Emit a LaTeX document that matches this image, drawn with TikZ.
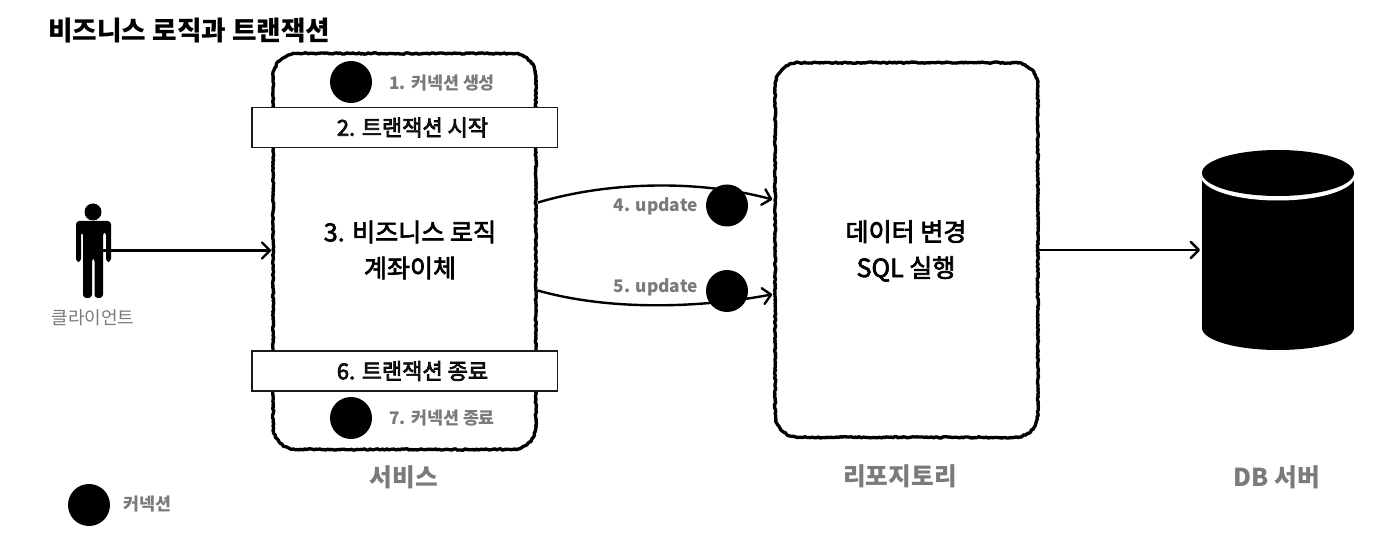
\documentclass[tikz,border=0pt]{standalone}
\usepackage{fontspec}
\setmainfont{Noto Sans CJK KR}
\newcommand{\medtext}[1]{\special{pdf:code q 2 Tr 0.5 w 0 G}#1\special{pdf:code Q}}
\usetikzlibrary{arrows.meta,decorations.pathmorphing,calc}
\definecolor{lab}{HTML}{7A7A7A}
\definecolor{dark}{HTML}{1A1A1A}
\pgfmathsetseed{7}
\tikzset{
  x=0.75pt,y=-0.75pt,
  roughbox/.style={inner sep=0pt,outer sep=0pt},
  roughline/.style={draw=black,line width=2.5pt,line join=round,
    decorate,decoration={random steps,segment length=1.4pt,amplitude=0.5pt}},
  txbox/.style={draw=dark,line width=1pt,fill=white,inner sep=0pt,outer sep=0pt,minimum width=229pt,minimum height=30pt,
    font=\fontsize{16.5}{19}\selectfont,text=dark},
  conn/.style={circle,fill=black,minimum size=31.5pt,inner sep=0pt,outer sep=0pt},
  big/.style={font=\fontsize{18.8}{27}\selectfont,text=black,align=center,inner sep=0pt},
  small/.style={font=\fontsize{13}{16}\selectfont\bfseries,text=lab,inner sep=0pt},
  caplabel/.style={font=\fontsize{18.5}{22}\selectfont\bfseries,text=lab,inner sep=0pt},
  flow/.style={line width=1.8pt,shorten >=1.5pt,-{Straight Barb[length=6pt,width=12pt,line width=1.8pt,round]}},
}
\newcommand{\roughrect}[1]{%
  \draw[roughline] ($(#1.north west)+(24,0)$) -- ($(#1.north east)+(-24,0)$)
    .. controls ($(#1.north east)+(-10,0)$) and ($(#1.north east)+(0,10)$) .. ($(#1.north east)+(0,24)$)
    -- ($(#1.south east)+(0,-24)$)
    .. controls ($(#1.south east)+(0,-10)$) and ($(#1.south east)+(-10,0)$) .. ($(#1.south east)+(-24,0)$)
    -- ($(#1.south west)+(24,0)$)
    .. controls ($(#1.south west)+(10,0)$) and ($(#1.south west)+(0,-10)$) .. ($(#1.south west)+(0,-24)$)
    -- ($(#1.north west)+(0,24)$)
    .. controls ($(#1.north west)+(0,10)$) and ($(#1.north west)+(10,0)$) .. cycle;}
\begin{document}
\begin{tikzpicture}
\useasboundingbox (0,0) rectangle (1398,548);
\node[anchor=west,inner sep=0pt,font=\fontsize{20}{24}\selectfont\bfseries] (title) at (48,31) {비즈니스 로직과 트랜잭션};

% rough boxes
\node[roughbox,minimum width=197pt,minimum height=297pt] (service) at (404.5,251.5) {};
\node[roughbox,minimum width=197pt,minimum height=281pt] (repo) at (906.5,250) {};
\roughrect{service}
\roughrect{repo}
\node[big] (repotext) at (906,251) {\medtext{데이터 변경}\\\medtext{SQL 실행}};
\node[big] (bizlogic) at (410,250) {\medtext{3. 비즈니스 로직}\\\medtext{계좌이체}};

% transaction bars
\node[txbox] (txstart) at (404.5,127.5) {\hspace*{12pt}\medtext{2. 트랜잭션 시작}};
\node[txbox] (txend) at (404.5,371) {\hspace*{12pt}\medtext{6. 트랜잭션 종료}};

% connection dots
\node[conn] (c1) at (351,82) {};
\node[conn] (c7) at (351,418) {};
\node[small,anchor=west] (l1) at (389,83) {1. 커넥션 생성};
\node[small,anchor=west] (l7) at (389,418) {7. 커넥션 종료};

% client figure
\node[inner sep=0pt,outer sep=0pt,minimum width=26.5pt,minimum height=71.5pt] (client) at (93.5,250.5) {};
\fill[black] (93,212) circle[radius=8.5];
\fill[black,rounded corners=2.5pt] (76,262) -- (76,221) -- (111,221) -- (111,262) -- (106,262) -- (106,232) -- (103,232) -- (103,298) -- (94.5,298) -- (94.5,258) -- (92,258) -- (92,298) -- (83,298) -- (83,232) -- (81,232) -- (81,262) -- cycle;
\node[font=\fontsize{13.5}{16}\selectfont,text=lab,inner sep=0pt] (clientlabel) at (93,318) {클라이언트};

% database
\node[inner sep=0pt,outer sep=0pt,minimum width=114pt,minimum height=150pt] (db) at (1278,250) {};
\fill[black] (1202,176) rectangle (1354,328);
\fill[black] (1278,328) ellipse[x radius=76,y radius=22];
\fill[white] (1278,176) ellipse[x radius=77,y radius=24.5];
\fill[black] (1278,173) ellipse[x radius=76,y radius=23];

% connectors
\draw[flow] (client.center) -- (service.west |- client.center);
\coordinate (u1s) at ($(service.east)+(2,-49)$);
\coordinate (u1e) at ($(repo.west)+(-1,-50)$);
\coordinate (u2s) at ($(service.east)+(2,39)$);
\coordinate (u2e) at ($(repo.west)+(-1,44)$);
\draw[flow] (u1s) .. controls (610,181) and (700,180) .. (u1e);
\draw[flow] (u2s) .. controls (610,311) and (700,308) .. (u2e);
\draw[flow] (repo.east) -- (db.west);
\node[conn] (c4) at (727,205.5) {};
\node[conn] (c5) at (727,291) {};
\node[small,anchor=east] (l4) at (698,206) {4. update};
\node[small,anchor=east] (l5) at (698,287) {5. update};

% captions
\node[caplabel] (capservice) at (404,477) {서비스};
\node[caplabel] (caprepo) at (900,476) {리포지토리};
\node[caplabel] (capdb) at (1277,477) {DB 서버};

% legend
\node[conn] (legenddot) at (89,505) {};
\node[font=\fontsize{13}{16}\selectfont\bfseries,text=lab,anchor=west,inner sep=0pt] (legend) at (123,504) {커넥션};
\end{tikzpicture}
\end{document}
